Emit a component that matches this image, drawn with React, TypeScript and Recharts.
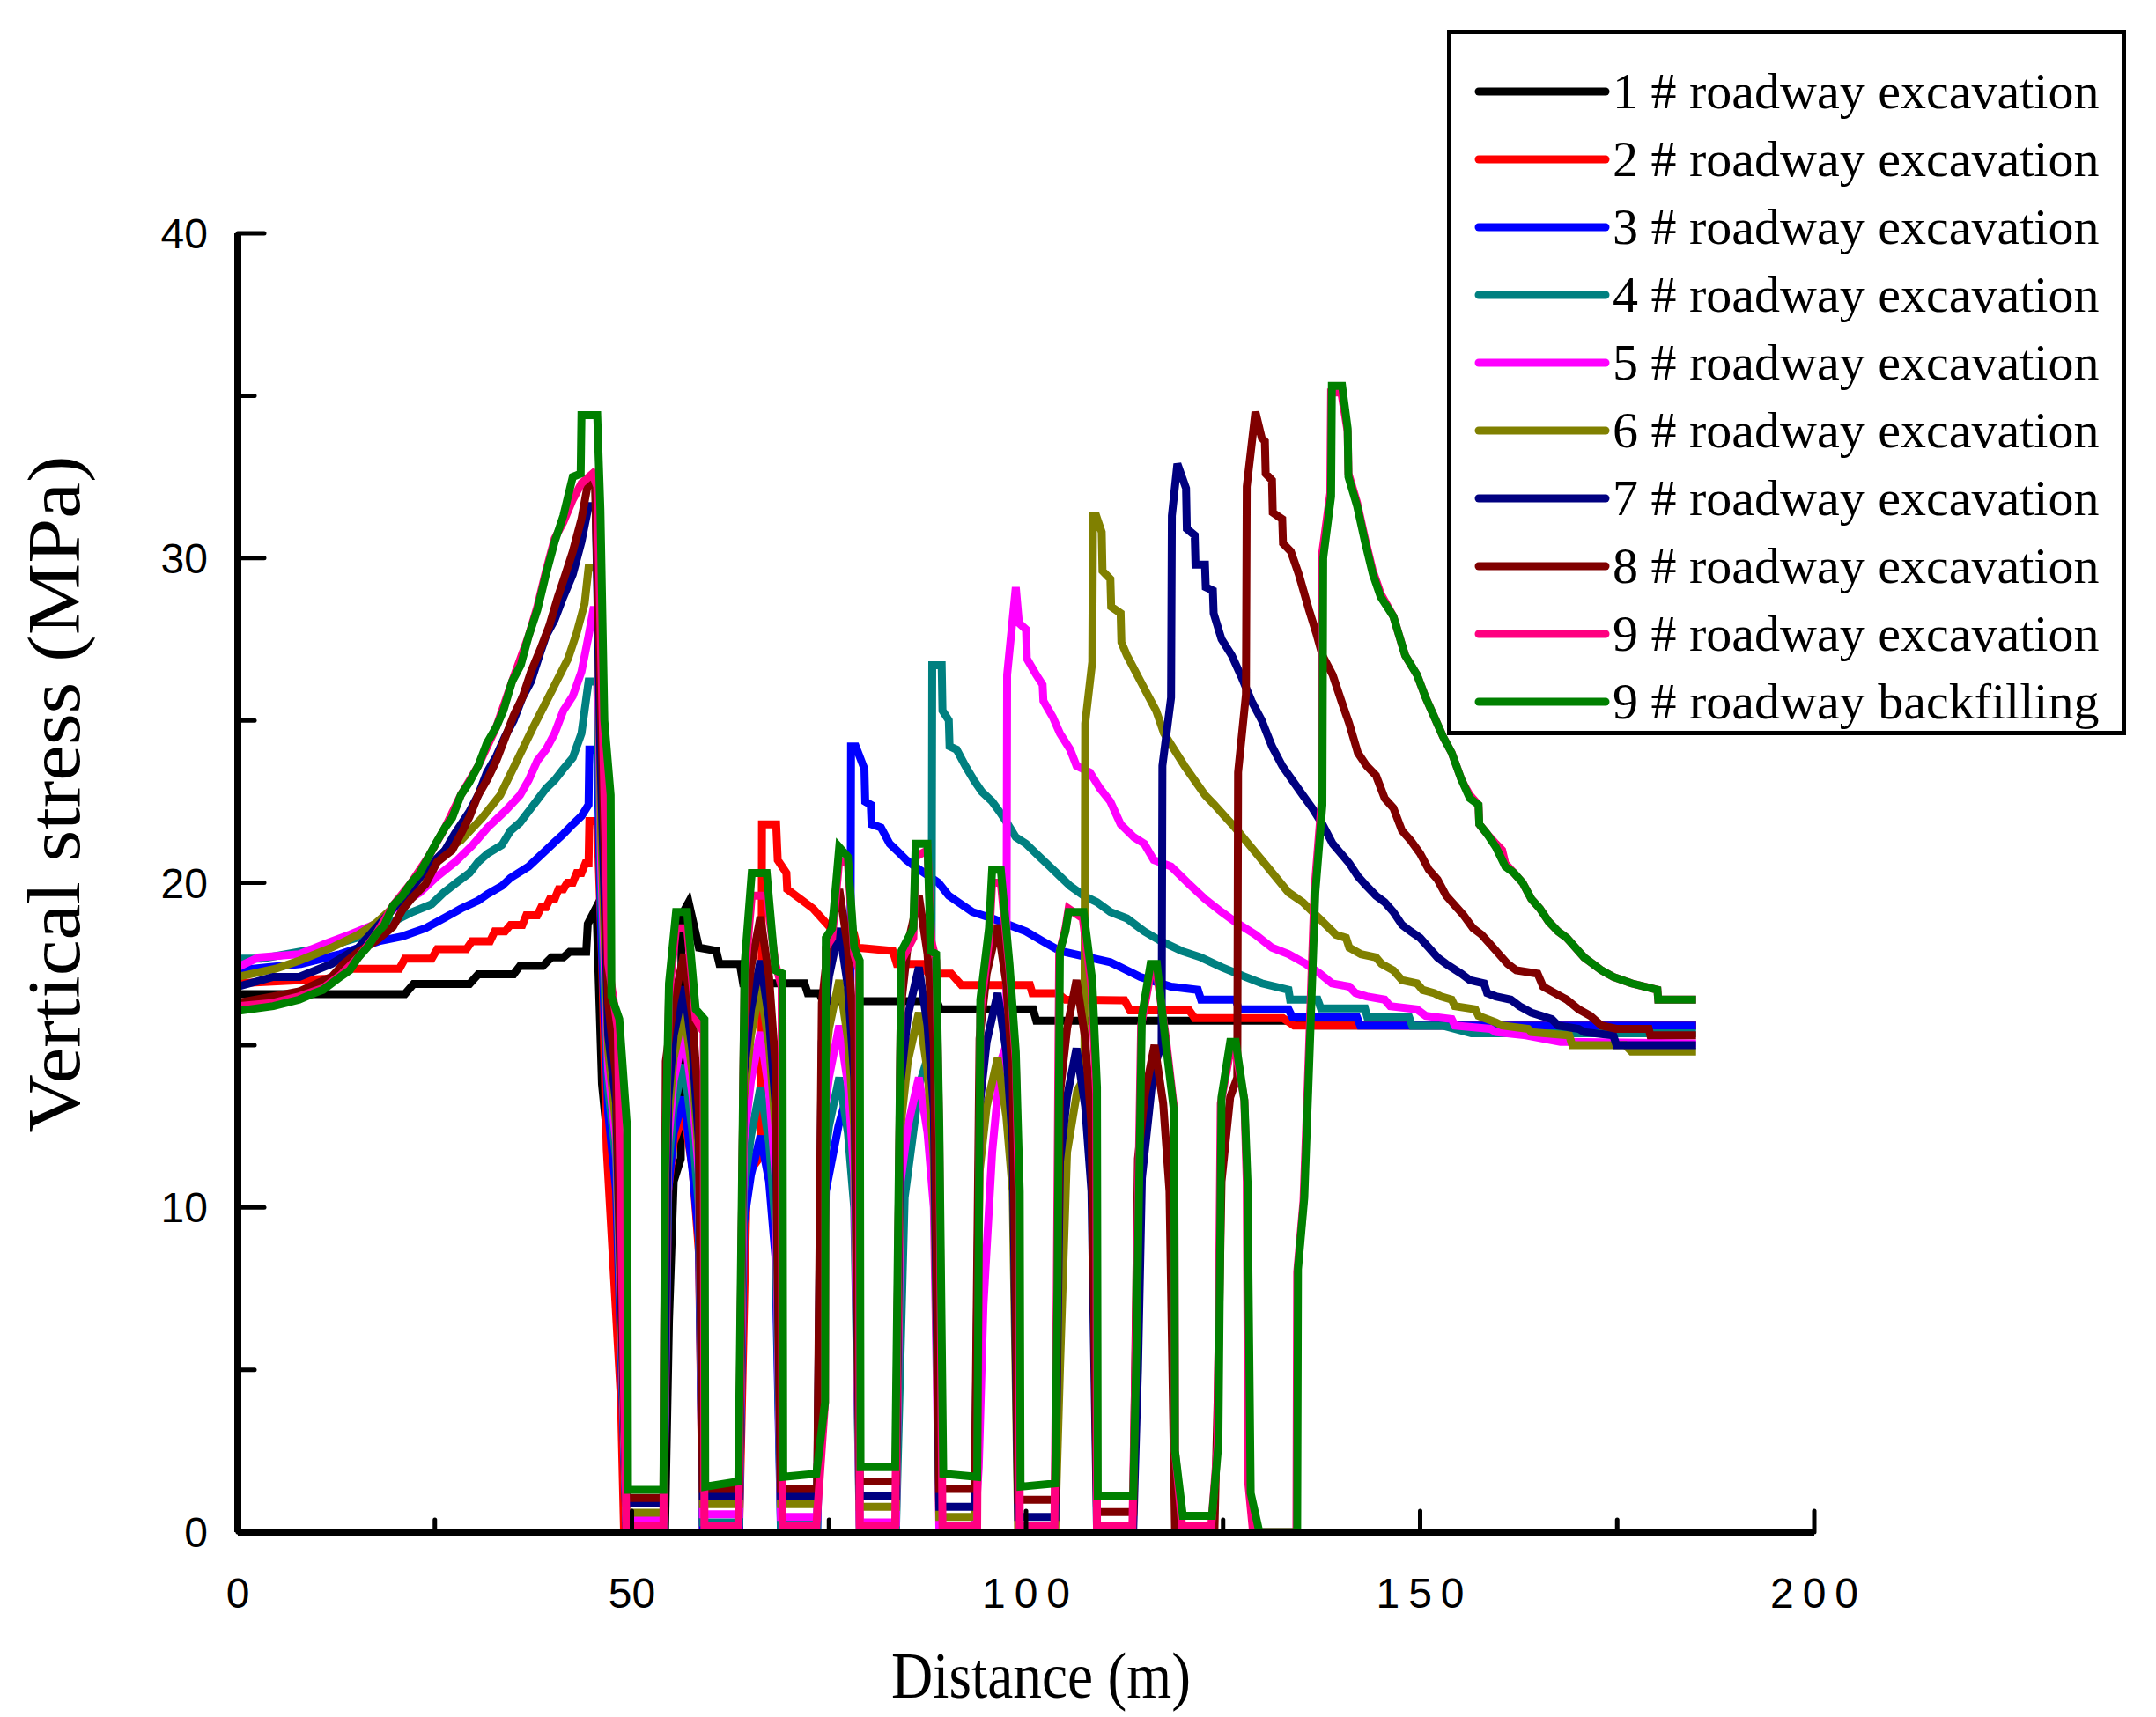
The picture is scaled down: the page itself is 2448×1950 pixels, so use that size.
import React from 'react';
import { LineChart, Line, XAxis, YAxis, Legend } from 'recharts';

// layout of the picture (pixels)
const W = 2448;
const H = 1950;
const PLOT_LEFT = 270;
const PLOT_BOTTOM = 1740;

const xTicks = [0, 25, 50, 75, 100, 125, 150, 175, 200];
const yTicks = [0, 5, 10, 15, 20, 25, 30, 35, 40];

const seriesNames = [
  '1 # roadway excavation',
  '2 # roadway excavation',
  '3 # roadway excavation',
  '4 # roadway excavation',
  '5 # roadway excavation',
  '6 # roadway excavation',
  '7 # roadway excavation',
  '8 # roadway excavation',
  '9 # roadway excavation',
  '9 # roadway backfilling',
];
const seriesColors = ['#000000', '#ff0000', '#0000ff', '#008080', '#ff00ff', '#808000', '#000080', '#800000', '#ff0080', '#008000'];

// [distance (m), vertical stress (MPa)]
const road1: [number, number][] = [
  [0, 16.57], [21.2, 16.57], [22.3, 16.88], [29.4, 16.88], [30.5, 17.18], [35, 17.18], [35.8, 17.44], [38.7, 17.44],
  [39.8, 17.7], [41.3, 17.7], [42.1, 17.87], [44.2, 17.87], [44.4, 18.73], [45.5, 19.25], [46.2, 13.8], [47.1, 11.6],
  [48, 10.9], [49.3, 0], [54.2, 0], [54.7, 6.5], [55.3, 10.8], [56.2, 11.5], [56.3, 19.0], [57.2, 19.4], [58.5, 18.0],
  [60.7, 17.9], [61.1, 17.5], [63.7, 17.5], [64.1, 16.9], [71.9, 16.9], [72.3, 16.6], [73.8, 16.6], [74.2, 16.35],
  [88.7, 16.35], [89.1, 16.1], [100.9, 16.1], [101.3, 15.75], [135, 15.75], [136, 15.6], [185, 15.6],
];

const road2: [number, number][] = [
  [0, 16.9], [12, 17.05], [14.2, 17.35], [20.5, 17.35], [21.2, 17.66], [24.6, 17.66], [25.3, 17.95], [29, 17.95],
  [29.7, 18.2], [32, 18.2], [32.6, 18.5], [33.9, 18.5], [34.6, 18.7], [36.1, 18.7], [36.6, 19.0], [38, 19.0],
  [38.5, 19.25], [39.1, 19.25], [39.6, 19.5], [40.2, 19.5], [40.7, 19.8], [41.3, 19.8], [41.8, 20.0], [42.5, 20.0],
  [43, 20.3], [43.6, 20.3], [44.1, 20.6], [44.5, 20.6], [44.6, 21.9], [45.6, 21.9], [46.2, 17.7], [46.8, 11.8],
  [48.6, 4.1], [49.0, 0], [54.0, 0], [54.6, 10.5], [55.3, 12.0], [56.6, 12.9], [57.7, 11.2], [58.5, 8.6], [59.0, 0],
  [63.6, 0], [64.6, 11.0], [66.4, 11.6], [66.5, 21.8], [68.3, 21.8], [68.5, 20.7], [69.6, 20.3], [69.7, 19.8],
  [70.8, 19.6], [73, 19.2], [74.1, 18.9], [75.6, 18.5], [78.2, 18.4], [78.6, 18.0], [83.1, 17.9], [83.6, 17.5],
  [86.8, 17.5], [87.6, 17.2], [90.5, 17.2], [91.8, 16.85], [100.5, 16.85], [100.8, 16.6], [104, 16.6], [105, 16.4],
  [112.5, 16.38], [113.2, 16.07], [120.7, 16.07], [121.4, 15.83], [132.6, 15.83], [134, 15.6], [185, 15.6],
];

const road3: [number, number][] = [
  [0, 17.3], [8, 17.5], [13, 17.8], [17.9, 18.2], [20.9, 18.35], [23.8, 18.6], [26.1, 18.9], [28.3, 19.2], [30.5, 19.45],
  [31.7, 19.65], [33.5, 19.9], [34.6, 20.15], [36.9, 20.5], [38, 20.75], [39.1, 21.0], [40.2, 21.25], [41.3, 21.5],
  [42.5, 21.8], [43.6, 22.05], [44.5, 22.4], [44.6, 24.1], [45.6, 24.1], [46.1, 18.5], [47.0, 12.9], [48.0, 10.5],
  [49.3, 0.15], [54.0, 0.15], [54.6, 10.5], [55.3, 12.3], [56.6, 13.4], [57.7, 11.1], [58.5, 9.0], [59.0, 0.08],
  [63.6, 0.08], [64.2, 9.5], [65.1, 11.0], [66.3, 12.2], [67.4, 10.8], [68.2, 8.5], [68.9, 0], [73.5, 0], [74.6, 10.5],
  [76.2, 12.5], [77.7, 13.8], [77.8, 24.2], [78.4, 24.2], [79.5, 23.5], [79.6, 22.5], [80.3, 22.4], [80.4, 21.8],
  [81.6, 21.7], [82.7, 21.2], [83.75, 20.96], [84.8, 20.7], [85.9, 20.5], [88.9, 20.0], [90.2, 19.6], [91.4, 19.4],
  [93.2, 19.1], [95.7, 18.9], [100, 18.5], [102.1, 18.2], [104.3, 17.9], [110.7, 17.55], [114.5, 17.1], [118.4, 16.8],
  [121.8, 16.7], [122.2, 16.4], [126.6, 16.4], [127, 16.1], [133.3, 16.1], [133.8, 15.85], [142, 15.85], [142.4, 15.6],
  [185, 15.6],
];

const road4: [number, number][] = [
  [0, 17.66], [3, 17.66], [7.8, 17.87], [11, 18.0], [15, 18.3], [19.1, 18.73], [22, 19.08], [24.6, 19.34], [26.1, 19.69],
  [27.9, 20.03], [29.4, 20.3], [30.5, 20.64], [31.7, 20.9], [33.5, 21.16], [34.6, 21.6], [35.8, 21.85], [36.9, 22.2],
  [38, 22.55], [39.1, 22.9], [40.2, 23.16], [41.3, 23.5], [42.5, 23.85], [43.6, 24.6], [44.5, 26.2], [45.6, 26.2],
  [46.1, 19.5], [47.0, 13.6], [48.0, 11.5], [49.3, 0.3], [54.0, 0.3], [54.6, 11.2], [55.3, 13.1], [56.6, 14.4],
  [57.7, 12.3], [58.5, 10.0], [59.0, 0.3], [63.6, 0.3], [64.2, 10.5], [65.1, 12.2], [66.3, 13.7], [67.4, 12.0],
  [68.2, 9.5], [68.9, 0.23], [73.5, 0.23], [74.1, 10.8], [75.0, 12.5], [76.3, 14.0], [77.4, 12.3], [78.2, 10.0],
  [78.9, 0.08], [83.5, 0.08], [84.6, 10.3], [86.5, 13.8], [88.0, 15.0], [88.1, 26.7], [89.3, 26.7], [89.4, 25.3],
  [90.2, 25.0], [90.3, 24.2], [91.2, 24.1], [92.3, 23.6], [93.4, 23.15], [94.4, 22.8], [95.7, 22.5], [96.6, 22.2],
  [97.7, 21.8], [98.7, 21.4], [100, 21.2], [101.7, 20.8], [103, 20.5], [104.3, 20.2], [105.6, 19.9], [107.3, 19.6],
  [109, 19.4], [110.7, 19.1], [112.8, 18.9], [115, 18.5], [117.1, 18.2], [119.7, 17.9], [122.2, 17.7], [124.8, 17.4],
  [127.8, 17.1], [129.9, 16.9], [133.3, 16.7], [133.5, 16.4], [137, 16.4], [137.4, 16.13], [143, 16.13], [143.3, 15.86],
  [148.6, 15.86], [149, 15.59], [153, 15.59], [156.5, 15.36], [185, 15.36],
];

const road5: [number, number][] = [
  [0, 17.4], [2.6, 17.7], [7.8, 17.8], [11.2, 18.13], [14.2, 18.4], [17.5, 18.73], [20.1, 19.25], [23.1, 19.7],
  [25.3, 20.2], [27.6, 20.64], [29.8, 21.16], [31.7, 21.7], [33.9, 22.2], [35.8, 22.7], [36.9, 23.16], [38, 23.76],
  [39.1, 24.1], [40.2, 24.6], [41.3, 25.3], [42.5, 25.75], [43.6, 26.5], [44.5, 27.6], [45.1, 28.4], [45.6, 28.4],
  [46.1, 20.5], [47.0, 14.2], [48.0, 12.0], [49.3, 0.45], [54.0, 0.45], [54.6, 12.0], [55.3, 13.9], [56.6, 15.4],
  [57.7, 13.4], [58.5, 11.0], [59.0, 0.55], [63.6, 0.55], [64.2, 12.0], [65.1, 13.9], [66.3, 15.4], [67.4, 13.6],
  [68.2, 11.0], [68.9, 0.47], [73.5, 0.47], [74.1, 12.2], [75.0, 14.0], [76.3, 15.6], [77.4, 13.8], [78.2, 11.0],
  [78.9, 0.3], [83.5, 0.3], [84.1, 10.8], [85.0, 12.5], [86.4, 14.0], [87.5, 12.3], [88.3, 10.0], [89.0, 0.08],
  [93.5, 0.08], [94.0, 2.0], [94.6, 7.0], [95.7, 11.7], [96.8, 14.5], [97.5, 15.0], [97.6, 26.4], [98.7, 29.1],
  [99.1, 28.0], [100, 27.8], [100.1, 26.9], [101.3, 26.4], [102.1, 26.1], [102.2, 25.6], [103.4, 25.1], [104.3, 24.6],
  [105.6, 24.1], [106.4, 23.6], [108.1, 23.4], [109.4, 22.9], [110.7, 22.5], [112, 21.8], [113.7, 21.4], [115, 21.2],
  [116.2, 20.7], [118.4, 20.5], [120.5, 20.0], [122.7, 19.5], [124.8, 19.1], [126.5, 18.8], [129.1, 18.4], [131.2, 18.0],
  [133.3, 17.8], [135.5, 17.5], [137.3, 17.2], [138.8, 16.9], [141, 16.8], [141.8, 16.6], [143.2, 16.5], [145.5, 16.4],
  [146.2, 16.2], [149.6, 16.1], [150.7, 15.9], [154, 15.8], [154.4, 15.6], [158.9, 15.5], [159.6, 15.4], [163.4, 15.3],
  [167.8, 15.1], [185, 15.05],
];

const road6: [number, number][] = [
  [0, 17.1], [4.8, 17.35], [7.8, 17.6], [11.9, 18.0], [15.3, 18.4], [17.5, 18.75], [20, 19.3], [23, 20.1], [26.3, 21.0],
  [28.3, 21.3], [31, 22.0], [33.3, 22.7], [35.5, 23.8], [37.5, 24.8], [39.6, 25.8], [41.9, 26.9], [43, 27.7], [44, 28.6],
  [44.5, 29.7], [45.6, 29.7], [46.1, 21.5], [47.0, 14.8], [48.0, 12.5], [49.3, 0.6], [54.0, 0.6], [54.6, 12.6],
  [55.3, 14.6], [56.6, 16.1], [57.7, 14.1], [58.5, 11.5], [59.0, 0.86], [63.6, 0.86], [64.2, 13.3], [65.1, 15.3],
  [66.3, 16.8], [67.4, 15.0], [68.2, 12.5], [68.9, 0.86], [73.5, 0.86], [74.1, 13.5], [75.0, 15.5], [76.3, 17.0],
  [77.4, 15.2], [78.2, 12.5], [78.9, 0.78], [83.5, 0.78], [84.1, 12.5], [85.0, 14.5], [86.4, 16.0], [87.5, 14.2],
  [88.3, 11.5], [89.0, 0.47], [93.5, 0.47], [94.1, 11.1], [95.0, 13.1], [96.4, 14.6], [97.5, 12.8], [98.3, 10.5],
  [99.0, 0], [103.7, 0], [104.3, 5.0], [105.2, 11.7], [106.5, 13.6], [107.4, 14.0], [107.5, 24.9], [108.4, 26.8],
  [108.5, 31.3], [108.9, 31.3], [109.6, 30.8], [109.7, 29.6], [110.7, 29.35], [110.8, 28.5], [112, 28.3], [112.1, 27.4],
  [112.8, 27.0], [114.1, 26.4], [115.4, 25.8], [116.5, 25.3], [117.5, 24.6], [118.8, 24.1], [120.1, 23.6],
  [121.4, 23.15], [122.7, 22.7], [123.9, 22.4], [125.2, 22.05], [126.5, 21.7], [128.2, 21.2], [129.9, 20.7],
  [131.6, 20.2], [133.3, 19.7], [135.1, 19.4], [137.2, 18.9], [139.3, 18.4], [140.6, 18.3], [141, 18.0], [142.5, 17.8],
  [144.4, 17.7], [145.1, 17.5], [146.6, 17.3], [147.7, 17.0], [149.6, 16.9], [150.3, 16.7], [151.8, 16.6], [152.6, 16.5],
  [154, 16.4], [154.4, 16.2], [157, 16.1], [157.4, 15.9], [159.6, 15.7], [160.4, 15.6], [163.7, 15.5], [164.1, 15.4],
  [168.9, 15.3], [169.3, 15.0], [176, 15.0], [176.8, 14.8], [185, 14.8],
];

const road7: [number, number][] = [
  [0, 16.8], [4.5, 17.1], [7.8, 17.1], [11.9, 17.5], [15.3, 18.0], [17.5, 18.6], [19.7, 19.2], [22, 19.8], [23.8, 20.4],
  [26.3, 21.0], [27.5, 21.5], [29.4, 22.2], [30.5, 22.7], [31.6, 23.4], [32.8, 23.9], [33.9, 24.5], [35, 25.0],
  [36.1, 25.7], [37.2, 26.2], [38.4, 27.1], [39.1, 27.6], [40.2, 28.1], [41.3, 28.8], [42.5, 29.5], [43.6, 30.5],
  [44.5, 31.6], [45.4, 31.6], [46.0, 24.0], [47.0, 15.3], [48.0, 13.2], [49.3, 0.9], [54.0, 0.9], [54.6, 13.3],
  [55.3, 15.3], [56.6, 16.8], [57.7, 14.8], [58.5, 12.0], [59.0, 1.1], [63.6, 1.1], [64.2, 14.1], [65.1, 16.1],
  [66.3, 17.6], [67.4, 15.8], [68.2, 13.2], [68.9, 1.1], [73.5, 1.1], [74.1, 15.1], [75.0, 17.1], [76.3, 18.6],
  [77.4, 16.8], [78.2, 14.0], [78.9, 1.1], [83.5, 1.1], [84.1, 13.9], [85.0, 15.9], [86.4, 17.4], [87.5, 15.6],
  [88.3, 13.0], [89.0, 0.78], [93.5, 0.78], [94.1, 13.1], [95.0, 15.1], [96.4, 16.6], [97.5, 14.8], [98.3, 12.0],
  [99.0, 0.47], [103.7, 0.47], [104.3, 11.4], [105.2, 13.4], [106.4, 14.9], [107.5, 13.1], [108.3, 10.5], [109.0, 0.08],
  [113.6, 0.08], [114.2, 5.0], [114.7, 10.9], [116.2, 14.3], [117.2, 15.0], [117.3, 23.6], [118.4, 25.7], [118.5, 31.3],
  [119.2, 32.9], [120.3, 32.15], [120.4, 30.9], [121.4, 30.7], [121.5, 29.8], [122.7, 29.8], [122.8, 29.1],
  [123.7, 29.0], [123.8, 28.3], [124.8, 27.5], [126.1, 27.0], [127.4, 26.3], [128.6, 25.6], [129.9, 25.0], [131.2, 24.2],
  [132.5, 23.6], [133.8, 23.15], [135.1, 22.7], [136.3, 22.3], [137.6, 21.8], [138.9, 21.2], [141, 20.6], [142.1, 20.2],
  [143.2, 19.9], [144.4, 19.6], [145.5, 19.4], [146.6, 19.1], [147.7, 18.7], [148.8, 18.5], [150, 18.3], [151.1, 18.0],
  [152.2, 17.7], [153.3, 17.5], [155.2, 17.2], [156.3, 17.0], [158.1, 16.9], [158.5, 16.6], [159.6, 16.5],
  [161.5, 16.4], [162.6, 16.2], [164.1, 16.0], [166.7, 15.8], [167.5, 15.6], [170.1, 15.5], [170.8, 15.4],
  [174.5, 15.3], [174.9, 15.0], [185, 15.0],
];

const road8: [number, number][] = [
  [0, 16.3], [4.5, 16.5], [7.8, 16.65], [11.9, 17.1], [13.4, 17.5], [15.3, 17.87], [17.5, 18.2], [19.7, 18.65],
  [20.9, 19.17], [22, 19.5], [23.8, 19.95], [25.3, 20.64], [27.2, 21.0], [28.3, 21.5], [29.4, 22.03], [30.5, 22.7],
  [31.7, 23.2], [32.8, 23.76], [33.9, 24.45], [35, 25.15], [36.1, 25.7], [37.2, 26.5], [38.4, 27.2], [39.5, 27.9],
  [40.6, 28.8], [41.3, 29.3], [42.5, 30.2], [43.6, 31.2], [44.5, 32.4], [45.3, 32.4], [46.0, 26.0], [47.0, 16.3],
  [48.0, 14.0], [49.3, 1.05], [54.0, 1.05], [54.3, 14.5], [55.3, 16.3], [56.6, 17.8], [57.7, 15.8], [58.5, 13.0],
  [59.0, 1.33], [63.6, 1.33], [64.2, 15.4], [65.1, 17.4], [66.3, 18.95], [67.4, 17.1], [68.2, 14.4], [68.9, 1.33],
  [73.5, 1.33], [74.1, 16.3], [75.0, 18.3], [76.3, 19.8], [77.4, 18.0], [78.2, 15.2], [78.9, 1.56], [83.5, 1.56],
  [84.1, 16.1], [85.0, 18.1], [86.4, 19.6], [87.5, 17.8], [88.3, 15.0], [89.0, 1.33], [93.5, 1.33], [94.1, 15.2],
  [95.0, 17.2], [96.4, 18.7], [97.5, 16.9], [98.3, 14.0], [99.0, 1.0], [103.7, 1.0], [104.3, 13.5], [105.2, 15.5],
  [106.4, 17.0], [107.5, 15.2], [108.3, 12.5], [109.0, 0.62], [113.6, 0.62], [114.2, 11.5], [115.1, 13.5],
  [116.3, 15.0], [117.4, 13.2], [118.2, 10.5], [118.9, 0.08], [123.9, 0.08], [124.3, 4.0], [124.8, 10.8],
  [125.9, 13.4], [126.8, 14.0], [126.9, 23.4], [127.9, 25.8], [128.0, 32.2], [129.1, 34.5], [129.9, 33.7],
  [130.3, 33.6], [130.4, 32.6], [131.2, 32.4], [131.3, 31.4], [132.5, 31.2], [132.6, 30.45], [133.6, 30.2],
  [134.6, 29.5], [135.9, 28.4], [136.8, 27.7], [137.6, 27.0], [138.9, 26.4], [140.0, 25.6], [141.0, 24.9],
  [142.1, 24.0], [143.2, 23.6], [144.4, 23.3], [145.5, 22.6], [146.6, 22.3], [147.7, 21.6], [148.8, 21.3], [150, 20.9],
  [151.1, 20.4], [152.2, 20.1], [153.3, 19.6], [154.4, 19.3], [155.5, 19.0], [156.7, 18.6], [157.8, 18.4],
  [158.9, 18.1], [160, 17.8], [161.1, 17.5], [162.2, 17.3], [164.9, 17.2], [165.6, 16.8], [167.1, 16.6], [168.6, 16.4],
  [170.1, 16.1], [171.6, 15.9], [173, 15.6], [174.9, 15.5], [179, 15.5], [179.2, 15.3], [185, 15.3],
];

const road9: [number, number][] = [
  [0, 16.2], [4.5, 16.3], [7.8, 16.5], [10.8, 16.75], [13, 17.15], [15.3, 17.7], [17.5, 18.4], [19.7, 19.3], [22, 20.0],
  [24.2, 20.8], [26.3, 21.7], [28.3, 22.7], [30.5, 23.6], [32.8, 24.8], [34.8, 26.2], [36.9, 27.6], [38, 28.5],
  [39.1, 29.6], [40.2, 30.6], [41.3, 31.1], [42.5, 31.8], [43.6, 32.3], [45.0, 32.6], [45.6, 32.2], [46.1, 27.0],
  [47.0, 17.5], [48.2, 15.5], [49.3, 0.2], [54.0, 0.2], [54.2, 10.5], [54.7, 16.5], [55.6, 18.6], [57.0, 18.6],
  [58.1, 15.8], [59.1, 15.4], [59.2, 0.2], [63.5, 0.2], [64.3, 17.0], [65.2, 19.6], [67.1, 19.6], [68.2, 17.5],
  [69.0, 16.8], [69.1, 0.2], [73.4, 0.2], [74.5, 4.0], [74.6, 18.0], [75.4, 18.3], [76.3, 20.7], [77.4, 20.6],
  [78.2, 17.8], [78.8, 17.3], [78.9, 0.2], [83.4, 0.2], [84.2, 17.6], [85.7, 18.3], [86.0, 20.8], [87.5, 21.0],
  [88.0, 18.2], [88.6, 17.6], [89.0, 12.0], [89.4, 0.2], [93.8, 0.2], [94.2, 16.0], [95.3, 18.2], [95.7, 20.0],
  [96.8, 20.0], [97.9, 17.3], [98.7, 14.5], [99.1, 10.0], [99.2, 0.2], [103.6, 0.2], [103.9, 7.5], [104.2, 17.8],
  [105.0, 18.6], [105.4, 19.2], [107.2, 18.9], [108.3, 16.8], [108.9, 13.5], [109.0, 0.2], [113.5, 0.2], [113.9, 5.5],
  [114.6, 15.6], [115.8, 17.2], [116.6, 17.2], [117.7, 15.3], [118.8, 13.0], [118.9, 2.5], [119.8, 0.2], [123.5, 0.2],
  [124.3, 2.7], [124.7, 13.2], [125.9, 14.8], [126.6, 14.8], [127.7, 13.3], [128.0, 10.8], [128.2, 1.5], [128.8, 0],
  [134.3, 0], [134.4, 8.0], [135.2, 10.2], [135.7, 13.5], [136.6, 19.8], [137.5, 22.5], [137.6, 30.2], [138.6, 32.0],
  [138.7, 35.1], [140.0, 35.1], [140.8, 33.9], [140.9, 32.6], [142, 31.7], [143, 30.6], [144, 29.6], [145, 28.9],
  [146.6, 28.2], [148.1, 27.0], [149.6, 26.4], [150.7, 25.7], [151.8, 25.1], [152.9, 24.5], [154, 24.0], [155.2, 23.2],
  [155.6, 23.0], [156.3, 22.7], [157.4, 22.4], [157.5, 21.8], [158.5, 21.5], [159.6, 21.2], [160.4, 21.0],
  [160.8, 20.6], [161.9, 20.3], [163, 20.0], [164.1, 19.5], [165.2, 19.2], [166.3, 18.8], [167.5, 18.5], [168.6, 18.3],
  [169.7, 18.0], [170.8, 17.7], [171.9, 17.5], [173, 17.3], [174.5, 17.1], [176.8, 16.9], [180.1, 16.7], [180.2, 16.4],
  [185, 16.4],
];

const backfill9: [number, number][] = [
  [0, 16.05], [4.5, 16.2], [7.8, 16.4], [9.7, 16.6], [10.8, 16.7], [11.9, 16.9], [13, 17.1], [14.2, 17.3], [15.3, 17.7],
  [16.4, 18.0], [17.5, 18.4], [18.6, 18.7], [19.7, 19.3], [20.9, 19.6], [22, 20.0], [23.1, 20.3], [24.2, 20.8],
  [25.1, 21.2], [26.3, 21.7], [27.2, 22.0], [28.3, 22.7], [29.4, 23.1], [30.5, 23.6], [31.6, 24.3], [32.8, 24.8],
  [33.7, 25.3], [34.8, 26.2], [35.9, 26.7], [36.9, 27.6], [38, 28.4], [39.1, 29.5], [40.2, 30.5], [41.3, 31.3],
  [42.5, 32.5], [43.5, 32.6], [43.6, 34.4], [45.6, 34.4], [46.0, 31.5], [46.5, 25.0], [47.3, 22.7], [47.4, 16.5],
  [48.4, 15.8], [49.4, 12.4], [49.5, 1.3], [54.0, 1.3], [54.2, 11.0], [54.7, 16.9], [55.6, 19.1], [57.0, 19.1],
  [58.1, 16.1], [59.2, 15.8], [59.3, 1.4], [63.5, 1.56], [64.3, 17.5], [65.2, 20.3], [67.1, 20.3], [68.2, 17.3],
  [69.1, 17.2], [69.2, 1.7], [73.4, 1.8], [74.5, 4.0], [74.6, 18.3], [75.4, 18.6], [76.3, 21.1], [77.4, 20.8],
  [78.2, 18.0], [78.9, 17.6], [79.0, 2.0], [83.4, 2.0], [84.2, 17.9], [85.7, 18.6], [86.0, 21.2], [87.5, 21.2],
  [87.9, 17.9], [88.6, 17.8], [89.0, 12.5], [89.5, 1.8], [93.8, 1.7], [94.2, 16.4], [95.3, 18.6], [95.7, 20.4],
  [96.8, 20.4], [97.9, 17.5], [98.7, 14.8], [99.2, 10.5], [99.3, 1.4], [103.7, 1.5], [104.0, 7.8], [104.3, 17.9],
  [105.0, 18.5], [105.4, 19.1], [107.3, 19.1], [108.4, 17.0], [109.0, 13.7], [109.1, 1.1], [113.6, 1.1], [114.0, 5.6],
  [114.7, 15.9], [115.8, 17.5], [116.6, 17.5], [117.7, 15.1], [118.8, 12.9], [118.9, 2.5], [119.9, 0.5], [123.6, 0.5],
  [124.4, 2.7], [124.8, 13.4], [125.9, 15.1], [126.6, 15.1], [127.7, 13.3], [128.1, 10.8], [128.5, 1.2], [129.6, 0],
  [134.4, 0], [134.5, 8.1], [135.3, 10.3], [135.8, 13.6], [136.7, 19.7], [137.6, 22.4], [137.7, 30.0], [138.7, 31.9],
  [138.8, 35.3], [140.1, 35.3], [140.8, 34.0], [140.9, 32.5], [142, 31.6], [143, 30.5], [144, 29.5], [145, 28.8],
  [146.6, 28.2], [148.1, 27.0], [149.6, 26.4], [150.7, 25.7], [151.8, 25.1], [152.9, 24.5], [154, 24.0], [155.2, 23.2],
  [156.3, 22.6], [157.4, 22.4], [157.5, 21.8], [158.5, 21.5], [159.6, 21.1], [160.8, 20.5], [161.9, 20.3], [163, 20.0],
  [164.1, 19.5], [165.2, 19.2], [166.3, 18.8], [167.5, 18.5], [168.6, 18.3], [169.7, 18.0], [170.8, 17.7],
  [171.9, 17.5], [173, 17.3], [174.5, 17.1], [176.8, 16.9], [180.1, 16.7], [180.2, 16.4], [185, 16.4],
];

const allSeries = [road1, road2, road3, road4, road5, road6, road7, road8, road9, backfill9];

const toPoints = (pts: [number, number][]) => pts.map(([x, y]) => ({ x, y }));

const XTick = (props: any) => {
  const { x, payload } = props;
  const v = payload.value;
  const major = v % 50 === 0;
  const label = String(v);
  return (
    <g>
      <line x1={x} x2={x} y1={PLOT_BOTTOM} y2={PLOT_BOTTOM - (major ? 24 : 14)} stroke="#000" strokeWidth={5} strokeLinecap="round" />
      {major && (
        <text
          x={x + (label.length > 2 ? 5 : 0)}
          y={1826}
          textAnchor="middle"
          fontFamily="'Liberation Sans', Arial, sans-serif"
          fontSize={48}
          letterSpacing={label.length > 2 ? 10 : 0}
          fill="#000"
        >
          {label}
        </text>
      )}
    </g>
  );
};

const YTick = (props: any) => {
  const { y, payload } = props;
  const v = payload.value;
  const major = v % 10 === 0;
  return (
    <g>
      <line x1={PLOT_LEFT} x2={PLOT_LEFT + (major ? 30 : 19)} y1={y} y2={y} stroke="#000" strokeWidth={5} strokeLinecap="round" />
      {major && (
        <text x={236} y={y} dy={17} textAnchor="end" fontFamily="'Liberation Sans', Arial, sans-serif" fontSize={48} fill="#000">
          {v}
        </text>
      )}
    </g>
  );
};

const YTitle = () => (
  <text
    transform="translate(90, 902) rotate(-90)"
    textAnchor="middle"
    fontFamily="'Liberation Serif', 'Times New Roman', serif"
    fontSize={84}
    textLength={769}
    lengthAdjust="spacingAndGlyphs"
    fill="#000"
  >
    Vertical stress (MPa)
  </text>
);

const XTitle = () => (
  <text
    x={1182}
    y={1928}
    textAnchor="middle"
    fontFamily="'Liberation Serif', 'Times New Roman', serif"
    fontSize={74}
    textLength={340}
    lengthAdjust="spacingAndGlyphs"
    fill="#000"
  >
    Distance (m)
  </text>
);

const LegendBox = () => (
  <div
    style={{
      boxSizing: 'border-box',
      width: 771,
      height: 801,
      border: '5px solid #000',
      background: '#fff',
      paddingTop: 26,
      fontFamily: "'Liberation Serif', 'Times New Roman', serif",
      fontSize: 58,
      color: '#000',
    }}
  >
    {seriesNames.map((name, i) => (
      <div key={name + i} style={{ height: 77, display: 'flex', alignItems: 'center' }}>
        <svg width={155} height={20} style={{ marginLeft: 26, flex: 'none' }}>
          <line x1={5} y1={10} x2={149} y2={10} stroke={seriesColors[i]} strokeWidth={9} strokeLinecap="round" />
        </svg>
        <span style={{ marginLeft: 2, whiteSpace: 'pre', lineHeight: 1 }}>{name}</span>
      </div>
    ))}
  </div>
);

export default function App() {
  return (
    <div style={{ position: 'absolute', left: 0, top: 0, width: W, height: H, background: '#fff' }}>
      <LineChart width={W} height={H} margin={{ top: 265, right: 388, left: 0, bottom: 0 }}>
        <XAxis
          dataKey="x"
          type="number"
          domain={[0, 200]}
          ticks={xTicks}
          interval={0}
          height={210}
          axisLine={{ stroke: '#000', strokeWidth: 8 }}
          tickLine={false}
          tick={(p: any) => <XTick {...p} />}
          label={<XTitle />}
        />
        <YAxis
          dataKey="y"
          type="number"
          domain={[0, 40]}
          ticks={yTicks}
          interval={0}
          width={270}
          axisLine={{ stroke: '#000', strokeWidth: 8 }}
          tickLine={false}
          tick={(p: any) => <YTick {...p} />}
          label={<YTitle />}
        />
        <Legend
          layout="horizontal"
          verticalAlign="middle"
          align="center"
          wrapperStyle={{ left: 1643, top: 34, width: 771, height: 801 }}
          content={() => <LegendBox />}
        />
        {allSeries.map((s, i) => (
          <Line
            key={seriesNames[i] + i}
            data={toPoints(s)}
            dataKey="y"
            name={seriesNames[i]}
            type="linear"
            stroke={seriesColors[i]}
            strokeWidth={9}
            dot={false}
            activeDot={false}
            isAnimationActive={false}
          />
        ))}
      </LineChart>
    </div>
  );
}
